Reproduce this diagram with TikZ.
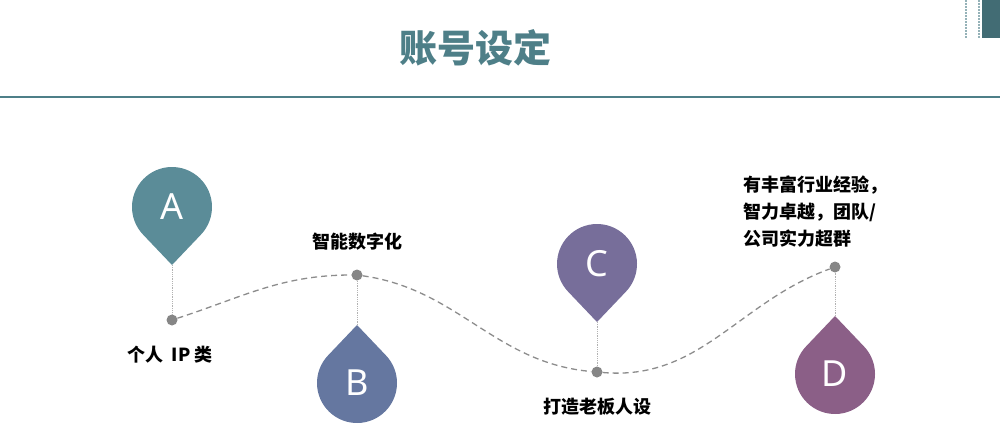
\documentclass[tikz,border=0pt]{standalone}
\usepackage{fontspec}
\newfontfamily\cjk{Noto Sans CJK SC}
\setsansfont{Noto Sans}
\begin{document}
\begin{tikzpicture}[x=1pt,y=1pt,
  pin/.pic={\path[pic actions] (0,-58) -- (-44:40) arc[start angle=-44,end angle=224,radius=40] -- cycle;},
  letter/.style={text=white,font=\sffamily\fontsize{36}{36}\selectfont},
  dot/.style={circle,fill=gray!95,inner sep=0pt,minimum size=11pt},
  lbl/.style={font=\cjk\bfseries\fontsize{18}{22}\selectfont,text=black},
  stem/.style={densely dotted,gray!60,line width=0.8pt},
  curve/.style={dashed,gray!90,line width=1.3pt,dash pattern=on 6pt off 4pt}]
\definecolor{teal1}{HTML}{4E7F88}
\useasboundingbox (0,0) rectangle (1000,-439);
% header
\node[font=\cjk\bfseries\fontsize{38}{44}\selectfont,text=teal1] (title) at (475,-48) {账号设定};
\draw[teal1,line width=2.5pt] (0,-97) -- (1000,-97);
\fill[teal1!85!black] (982,0) rectangle (1000,-38);
\draw[teal1!60,line width=2pt,dash pattern=on 1.5pt off 1.5pt] (966,0) -- (966,-38);
\draw[teal1!60,line width=2pt,dash pattern=on 1.5pt off 1.5pt] (979,0) -- (979,-38);
% pins
\pic[fill={rgb,255:red,91;green,140;blue,152}] at (172,-207) {pin};
\node[letter] (A) at (172,-207) {A};
\coordinate (tA) at (172,-265);
\pic[fill={rgb,255:red,101;green,119;blue,160},rotate=180] at (357,-383) {pin};
\node[letter] (B) at (357,-383) {B};
\coordinate (tB) at (357,-325);
\pic[fill={rgb,255:red,119;green,110;blue,154}] at (597,-264) {pin};
\node[letter] (C) at (597,-264) {C};
\coordinate (tC) at (597,-322);
\pic[fill={rgb,255:red,139;green,95;blue,135},rotate=180] at (835,-374) {pin};
\node[letter] (D) at (835,-374) {D};
\coordinate (tD) at (835,-316);
% dots
\node[dot] (d1) at (172,-320) {};
\node[dot] (d2) at (357,-275) {};
\node[dot] (d3) at (597,-372) {};
\node[dot] (d4) at (835,-267) {};
\draw[stem] (tA) -- (d1);
\draw[stem] (tB) -- (d2);
\draw[stem] (tC) -- (d3);
\draw[stem] (tD) -- (d4);
\draw[curve] (d1) to[out=18,in=180] (d2) to[out=-8,in=175] (d3) to[out=-5,in=200] (d4);
% labels
\node[lbl] (l1) at (170,-355) {个人\ \ IP\ 类};
\node[lbl] (l2) at (357,-242) {智能数字化};
\node[lbl] (l3) at (597,-407) {打造老板人设};
\node[lbl,align=left,anchor=west,font=\cjk\bfseries\fontsize{18}{27}\selectfont] (l4) at (740,-212) {有丰富行业经验，\\智力卓越，团队/\\公司实力超群};
\end{tikzpicture}
\end{document}
